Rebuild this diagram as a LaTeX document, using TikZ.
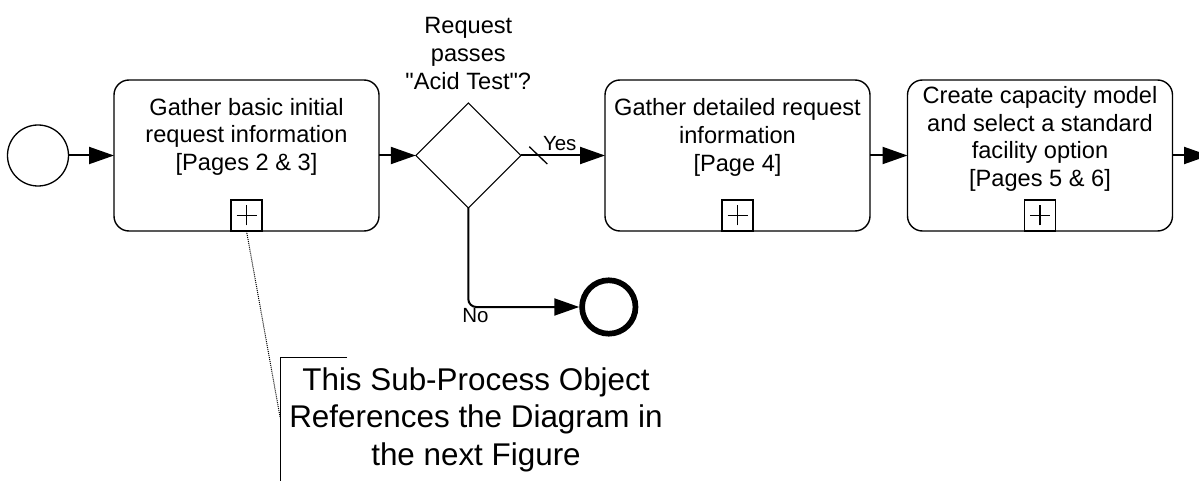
\documentclass[tikz,border=0pt]{standalone}
\usepackage{fontspec}
\setmainfont{Liberation Sans}[Ligatures=TeXOff]
\usetikzlibrary{shapes.geometric,arrows.meta}
\begin{document}
\begin{tikzpicture}[x=1pt,y=-1pt,
  every node/.style={inner sep=0pt, outer sep=0pt},
  task/.style={draw, line width=1.4pt, rounded corners=15pt, minimum width=265pt, minimum height=151pt},
  txt/.style={align=center, anchor=base, font=\fontsize{23.6}{27.8}\selectfont},
  marker/.style={draw, line width=1.3pt, minimum size=31pt, anchor=south,
    path picture={\draw[line width=1.3pt]
      ([xshift=-10pt]path picture bounding box.center) -- ([xshift=10pt]path picture bounding box.center)
      ([yshift=-10pt]path picture bounding box.center) -- ([yshift=10pt]path picture bounding box.center);}},
  flow/.style={line width=2pt, -{Triangle[length=25pt,width=17pt]}},
  lab/.style={font=\fontsize{20.5}{24}\selectfont, anchor=base},
  ]
\clip (0,0) rectangle (1199,481);
\fill[white] (0,0) rectangle (1199,481);

% events, tasks, gateway
\node[circle, draw, line width=1.3pt, minimum size=61pt] (start) at (38,155.5) {};
\node[task] (t1) at (246.5,155.5) {};
\node[txt] (t1x) at (246.5,170.7) {Gather basic initial\\request information\\{[}Pages 2 \& 3{]}};
\node[marker] (m1) at (246.5,231) {};

\node[diamond, draw, line width=1.1pt, minimum width=105pt, minimum height=105pt] (gw) at (468.3,155.5) {};
\node[txt] (q) at (468.3,89.3) {Request\\passes\\"Acid Test"?};

\node[task] (t2) at (737.5,155.5) {};
\node[txt] (t2x) at (737.5,171.5) {Gather detailed request\\information\\{[}Page 4{]}};
\node[marker] (m2) at (737.5,231) {};

\node[task] (t3) at (1040,155.5) {};
\node[txt] (t3x) at (1040,186.7) {Create capacity model\\and select a standard\\facility option\\{[}Pages 5 \& 6{]}};
\node[marker] (m3) at (1040,231) {};

\node[circle, draw, line width=5.7pt, minimum size=53.4pt, outer sep=2.85pt] (end) at (608.8,307) {};

% sequence flows
\draw[flow] (start) -- (t1);
\draw[flow] (t1) -- (gw);
\draw[flow] (gw) -- (t2);
\draw[flow] (t2) -- (t3);
\coordinate (off) at (1209,155.5);
\draw[flow] (t3) -- (off);
\draw[flow, rounded corners=8pt] (gw.south) |- (end.west);

% default-flow slash and labels
\draw[line width=1.3pt] (529.3,146.7) -- (547.3,164);
\node[lab, anchor=base west] (yes) at (543,150.7) {Yes};
\node[lab] (no) at (475.5,322.7) {No};

% annotation
\draw[line width=1pt] (347,357.3) -- (280.3,357.3) -- (280.3,490);
\coordinate (assoc) at (280.3,418.3);
\draw[line width=1pt, dash pattern=on 1pt off 1pt] (m1.south) -- (assoc);
\node[txt, font=\fontsize{31.4}{37.5}\selectfont] (ann) at (476,465) {This Sub-Process Object\\References the Diagram in\\the next Figure};
\end{tikzpicture}
\end{document}
